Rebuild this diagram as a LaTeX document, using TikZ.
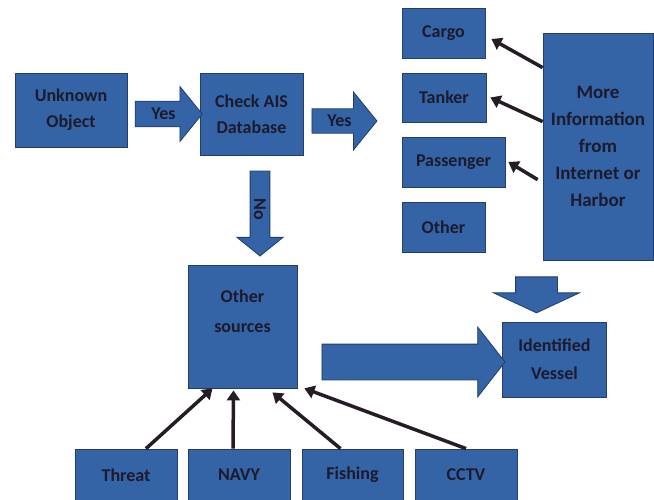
\documentclass[tikz,border=0pt]{standalone}
\usepackage{fontspec}
\setmainfont{Carlito}
\usetikzlibrary{shapes.arrows,arrows.meta}
\definecolor{boxblue}{RGB}{52,99,166}
\definecolor{boxedge}{RGB}{33,62,110}
\definecolor{inkdark}{RGB}{28,26,44}
\definecolor{linkdark}{RGB}{38,28,38}

\begin{document}
\begin{tikzpicture}[x=1pt, y=-1pt,
    box/.style={draw=boxedge, line width=0.8pt, fill=boxblue, text=inkdark,
        font=\fontsize{18}{26}\selectfont\bfseries, align=center, inner sep=2pt},
    blockarrow/.style={single arrow, draw=boxedge, line width=0.8pt, fill=boxblue,
        text=inkdark, font=\fontsize{18}{22}\selectfont\bfseries, inner xsep=0pt,
        single arrow tip angle=102},
    link/.style={draw=linkdark, line width=3.5pt, -{Triangle[width=13pt,length=10pt]}}]
    \useasboundingbox (0,0) rectangle (654,500);

    % first row
    \node[box, minimum width=112pt, minimum height=74pt] (unknown) at (71,110) {Unknown\\Object};
    \node[box, minimum width=103pt, minimum height=82pt] (check) at (251.5,114) {Check AIS\\Database};
    \node[blockarrow, inner ysep=5.5pt, minimum height=67pt, minimum width=55pt, single arrow head extend=13.5pt] (yesA) at (163.5,114) {Yes};
    \node[blockarrow, inner ysep=5pt, minimum height=65pt, minimum width=58pt, single arrow head extend=15.5pt] (yesB) at (339.5,121) {Yes};

    % vessel types
    \node[box, minimum width=83pt, minimum height=50pt] (cargo) at (443.5,33) {Cargo};
    \node[box, minimum width=84pt, minimum height=49pt] (tanker) at (444,97.5) {Tanker};
    \node[box, minimum width=103pt, minimum height=50pt] (passenger) at (453.5,162) {Passenger};
    \node[box, minimum width=83pt, minimum height=50pt] (other) at (443.5,227) {Other};
    \node[box, minimum width=110pt, minimum height=227pt, font=\fontsize{19}{27}\selectfont\bfseries] (info) at (598,146.5)
        {More\\Information\\from\\Internet or\\Harbor};

    \draw[link] ([yshift=-35pt]info.north west) -- ([shift={(6pt,-6pt)}]cargo.east);
    \draw[link] ([yshift=-89pt]info.north west) -- ([xshift=4pt]tanker.east);
    \draw[link] ([shift={(-5pt,-147pt)}]info.north west) -- ([xshift=3pt]passenger.east);

    % no branch
    \node[blockarrow, rotate=-90, inner ysep=3.5pt, minimum height=85pt, minimum width=46pt, single arrow head extend=13pt] (no) at (260,209.5) {No};
    \node[box, minimum width=109pt, minimum height=123pt, font=\fontsize{18}{30}\selectfont\bfseries] (others) at (242.5,326.5)
        {Other\\sources\\\mbox{}};
    \node[box, minimum width=104pt, minimum height=75pt, font=\fontsize{18}{28}\selectfont\bfseries] (vessel) at (554.5,359.5)
        {Identified\\Vessel};
    \node[blockarrow, inner ysep=17.5pt, minimum height=183pt, minimum width=69pt, single arrow head extend=17pt,
        single arrow tip angle=104] (toVessel) at (406.5,362) {};
    \node[blockarrow, rotate=-90, inner ysep=20.5pt, minimum height=36pt, minimum width=85pt, single arrow head extend=22pt,
        single arrow tip angle=130] (infoDown) at (536.5,290) {};

    % sources
    \node[box, minimum width=102pt, minimum height=52pt] (threat) at (126,475) {Threat};
    \node[box, minimum width=102pt, minimum height=52pt] (navy) at (239,475) {NAVY};
    \node[box, minimum width=101pt, minimum height=52pt] (fishing) at (352.5,475) {Fishing};
    \node[box, minimum width=102pt, minimum height=52pt] (cctv) at (466,475) {CCTV};

    \draw[link] ([xshift=20pt]threat.north) -- ([xshift=-30pt]others.south);
    \draw[link] ([xshift=-6pt]navy.north) -- ([xshift=-9pt,yshift=-2pt]others.south);
    \draw[link] ([xshift=-12pt]fishing.north) -- ([shift={(30pt,-4pt)}]others.south);
    \draw[link] (cctv.north) -- ([xshift=7pt]others.south east);
\end{tikzpicture}
\end{document}
